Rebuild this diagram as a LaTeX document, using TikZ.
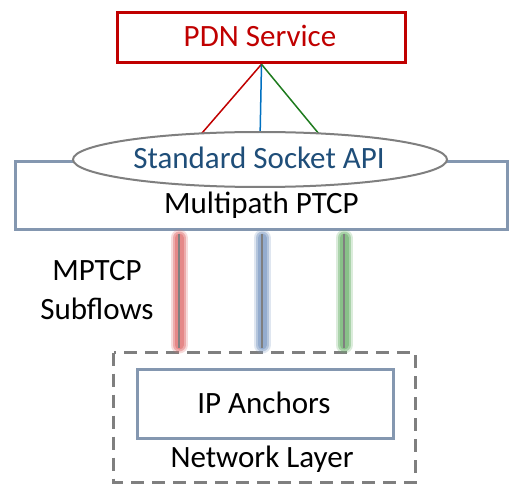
\documentclass[tikz,border=0pt]{standalone}
\usepackage{fontspec}
\setmainfont{Carlito}
\usetikzlibrary{shapes.geometric}
\definecolor{pdnred}{HTML}{C00000}
\definecolor{boxblue}{HTML}{8497B0}
\definecolor{txtblue}{HTML}{1F4E79}
\definecolor{lnblue}{HTML}{0070C0}
\definecolor{lngreen}{HTML}{1E7B1E}
\definecolor{grayln}{HTML}{7F7F7F}
\definecolor{glowred}{HTML}{E07070}
\definecolor{glowblue}{HTML}{7F9CC4}
\definecolor{glowgreen}{HTML}{70B470}
\begin{document}
\begin{tikzpicture}[x=1pt,y=-1pt,
  lbl/.style={font=\fontsize{31}{37}\selectfont, anchor=base, inner sep=0pt},
  bluebox/.style={draw=boxblue, line width=3pt, fill=white},
  glowa/.style={line width=17pt, line cap=round, opacity=0.25},
  glowb/.style={line width=13pt, line cap=round, opacity=0.45},
  glowc/.style={line width=9pt, line cap=round, opacity=0.6},
  coreln/.style={draw=grayln, line width=1.8pt}]
\useasboundingbox (0,0) rectangle (509,484);
% multipath box
\draw[bluebox] (15.5,162) rectangle (507.5,229);
% PDN box
\node[draw=pdnred, line width=3.5pt, fill=white, minimum width=288pt, minimum height=50pt, inner sep=0pt] (pdn) at (261.5,37.5) {};
\node[lbl, text=pdnred] (pdntxt) at (260,47) {PDN Service};
% connector end points (hidden behind the ellipse)
\coordinate (er) at (196,140);
\coordinate (eb) at (260,140);
\coordinate (eg) at (324,140);
\draw[pdnred, line width=1.5pt] (pdn.south) -- (er);
\draw[lnblue, line width=1.5pt] (pdn.south) -- (eb);
\draw[lngreen, line width=1.5pt] (pdn.south) -- (eg);
% ellipse
\node[ellipse, draw=grayln, line width=2pt, fill=white, minimum width=374pt, minimum height=55pt, inner sep=0pt] (api) at (260,159.5) {};
\node[lbl, text=txtblue] (apitxt) at (259,168) {Standard Socket API};
\node[lbl] (mptxt) at (261.5,213) {Multipath PTCP};
% dashed network layer box
\draw[grayln, line width=3pt, dash pattern=on 13pt off 8pt] (113.5,352.5) rectangle (415.5,482);
% IP anchors box
\node[bluebox, minimum width=256pt, minimum height=69pt, inner sep=0pt] (ip) at (265,403.5) {};
\node[lbl] (iptxt) at (264,413) {IP Anchors};
\node[lbl] (nltxt) at (262,467) {Network Layer};
% subflows
\coordinate (r1) at (179,238);
\coordinate (r2) at (179,345);
\coordinate (b1) at (262,238);
\coordinate (b2) at (262,345);
\coordinate (g1) at (344,238);
\coordinate (g2) at (344,345);
\foreach \a/\b/\c in {r1/r2/glowred, b1/b2/glowblue, g1/g2/glowgreen}{
  \draw[glowa, \c] (\a) -- (\b);
  \draw[glowb, \c] (\a) -- (\b);
  \draw[glowc, \c] (\a) -- (\b);
}
\draw[coreln] (179,234) -- (179,348);
\draw[coreln] (262,234) -- (262,348);
\draw[coreln] (344,234) -- (344,348);
\node[lbl] (mptcp) at (97,280) {MPTCP};
\node[lbl] (subfl) at (97,319) {Subflows};
\end{tikzpicture}
\end{document}
